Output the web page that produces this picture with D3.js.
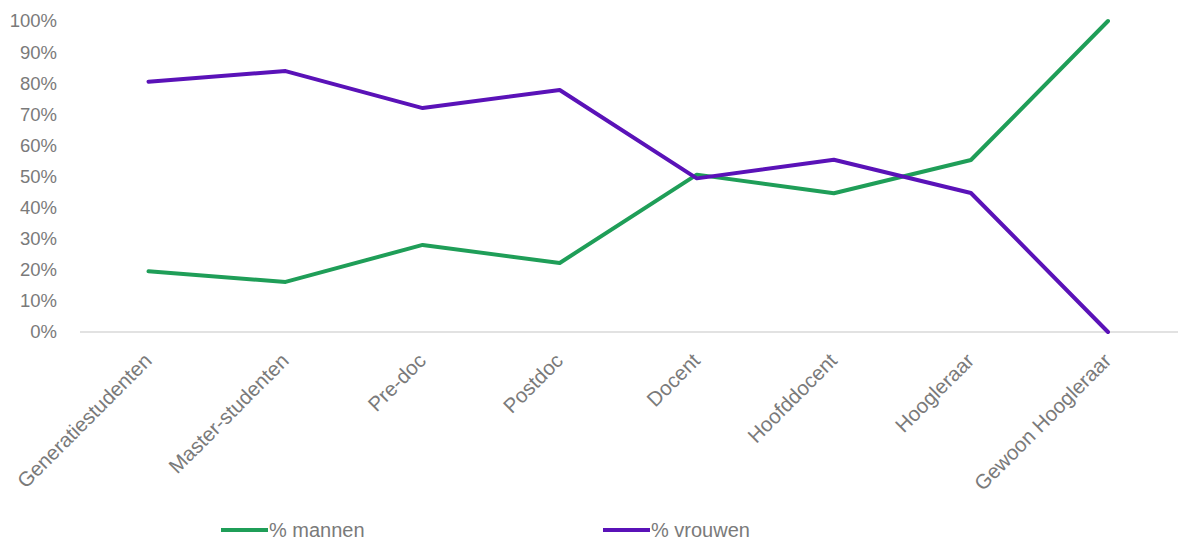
<!DOCTYPE html>
<html>
<head>
<meta charset="utf-8">
<script src="https://cdn.jsdelivr.net/npm/d3@7"></script>
<style>
  html, body { margin: 0; padding: 0; background: #fff; }
  svg { display: block; }
  text { font-family: "Liberation Sans", Arial, sans-serif; fill: #7a7a7a; }
</style>
</head>
<body>
<svg id="chart" width="1186" height="543"></svg>
<script>
const categories = ["Generatiestudenten", "Master-studenten", "Pre-doc", "Postdoc", "Docent", "Hoofddocent", "Hoogleraar", "Gewoon Hoogleraar"];
const mannen  = [19.5, 16.1, 28.0, 22.2, 50.6, 44.6, 55.3, 100];
const vrouwen = [80.5, 83.9, 72.0, 77.8, 49.4, 55.4, 44.7, 0];
const yTicks = [0, 10, 20, 30, 40, 50, 60, 70, 80, 90, 100];
const seriesNames = ["% mannen", "% vrouwen"];
const seriesColors = ["#1f9e58", "#5a12b8"];

const svg = d3.select("#chart");
const x = d3.scalePoint().domain(categories).range([148.5, 1108]);
const y = d3.scaleLinear().domain([0, 100]).range([332, 21]);

// baseline axis
svg.append("line")
  .attr("x1", 80).attr("x2", 1178)
  .attr("y1", y(0)).attr("y2", y(0))
  .attr("stroke", "#d9d9d9").attr("stroke-width", 1.5);

// y axis labels
const yAxis = d3.axisLeft(y).tickValues(yTicks).tickFormat(d => d + "%").tickSize(0).tickPadding(0);
const yg = svg.append("g").attr("transform", "translate(57,0)").call(yAxis);
yg.select(".domain").remove();
yg.selectAll("text").style("font-size", "18.5px").attr("fill", "#7a7a7a").attr("font-family", "Liberation Sans, Arial, sans-serif");

// x labels
const xAxis = d3.axisBottom(x).tickSize(0).tickPadding(0);
const xg = svg.append("g").call(xAxis);
xg.select(".domain").remove();
xg.selectAll(".tick text")
  .attr("y", 0).attr("dy", 0)
  .attr("text-anchor", "end")
  .attr("transform", "translate(4,362) rotate(-45)")
  .style("font-size", "20.5px").attr("fill", "#7a7a7a").attr("font-family", "Liberation Sans, Arial, sans-serif");

// lines
const line = d3.line().x((d, i) => x(categories[i])).y(d => y(d));
[mannen, vrouwen].forEach((s, k) => {
  svg.append("path").datum(s)
    .attr("d", line)
    .attr("fill", "none")
    .attr("stroke", seriesColors[k])
    .attr("stroke-width", 4)
    .attr("stroke-linejoin", "round")
    .attr("stroke-linecap", "round");
});

// legend
const legendX = [221, 603];
seriesNames.forEach((name, k) => {
  const g = svg.append("g").attr("transform", `translate(${legendX[k]},530)`);
  g.append("line").attr("x1", 0).attr("x2", 47).attr("y1", 0).attr("y2", 0)
    .attr("stroke", seriesColors[k]).attr("stroke-width", 4);
  g.append("text").attr("x", 48).attr("y", 0).attr("dy", "0.35em")
    .style("font-size", "20px").text(name);
});
</script>
</body>
</html>
